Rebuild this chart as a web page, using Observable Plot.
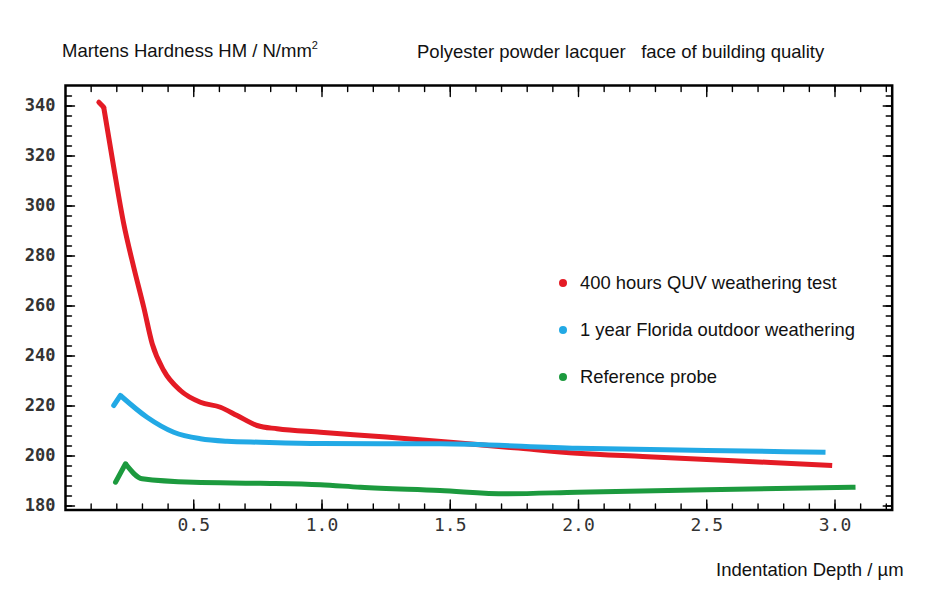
<!DOCTYPE html>
<html><head><meta charset="utf-8">
<script src="https://cdn.jsdelivr.net/npm/d3@7"></script>
<script src="https://cdn.jsdelivr.net/npm/@observablehq/plot@0.6"></script>
<style>
html,body{margin:0;padding:0;background:#fff;}
#wrap{position:relative;width:936px;height:610px;overflow:hidden;font-family:"Liberation Sans",Arial,sans-serif;color:#111;}
#wrap svg{position:absolute;left:0;top:0;}
.lbl{position:absolute;font-size:18.5px;line-height:18px;white-space:nowrap;}
.lbl sup{font-size:11px;line-height:0;vertical-align:0;position:relative;top:-8px;}
.leg{position:absolute;left:559px;font-size:18.4px;line-height:18px;white-space:nowrap;}
.leg .dot{display:inline-block;width:8px;height:8px;border-radius:50%;margin-right:13px;vertical-align:2px;}
</style>
</head><body>
<div id="wrap"></div>
<script>
// ---- data ----
const depthQUV = [0.130,0.149,0.188,0.227,0.266,0.305,0.338,0.383,0.448,0.526,0.604,0.669,0.747,0.825,0.994,1.25,1.5,1.75,1.995,2.25,2.5,2.75,2.989];
const hmQUV    = [341.5,339.5,315.5,292.9,275.5,259.5,244.9,234.2,226.2,221.5,219.5,216.2,212.2,210.9,209.5,207.6,205.5,203.3,201.1,199.8,198.6,197.4,196.2];

const depthFlorida = [0.188,0.214,0.318,0.422,0.526,0.630,0.760,0.994,1.46,1.995,2.5,2.963];
const hmFlorida    = [220.2,224.2,215.5,209.5,206.9,205.9,205.5,205.0,204.9,203.1,202.2,201.5];

const depthRef = [0.195,0.234,0.299,0.500,0.760,0.994,1.15,1.46,1.72,1.995,2.5,3.08];
const hmRef    = [189.5,196.9,190.9,189.5,189.1,188.5,187.5,186.2,184.9,185.5,186.5,187.5];

const seriesNames  = ["400 hours QUV weathering test","1 year Florida outdoor weathering","Reference probe"];
const seriesColors = ["#e41b25","#22a9e5","#1c9a3e"];

const xTickLabels = [0.5,1.0,1.5,2.0,2.5,3.0];
const yTickLabels = [180,200,220,240,260,280,300,320,340];
const xMinorTicks = d3.range(1,33).map(i => i/10);
const yMinorTicks = d3.range(180,348,4);

const titleLeft  = "Martens Hardness HM / N/mm";
const titleRight = "Polyester powder lacquer \u00a0 face of building quality";
const xLabel = "Indentation Depth / \u00b5m";

// ---- build ----
const toRows = (xs, ys) => xs.map((x,i) => ({x, y: ys[i]}));
const series = [toRows(depthQUV,hmQUV), toRows(depthFlorida,hmFlorida), toRows(depthRef,hmRef)];

const tickShape = {draw(ctx, l){ ctx.moveTo(0,0); ctx.lineTo(0,-l); }};
const tickMarks = (vals, anchor, rotate, len) =>
  anchor === "bottom" || anchor === "top"
    ? Plot.vector(vals, {x: d=>d, frameAnchor: anchor, rotate, length: len, anchor:"start", shape: tickShape, stroke:"#000", strokeWidth:1.4})
    : Plot.vector(vals, {y: d=>d, frameAnchor: anchor, rotate, length: len, anchor:"start", shape: tickShape, stroke:"#000", strokeWidth:1.4});

// each curve: sharp first segment (start kink/peak), smooth remainder
const curveMarks = series.flatMap((s,i) => [
  Plot.line(s.slice(0,2), {x:"x", y:"y", stroke: seriesColors[i], strokeWidth: 5, strokeLinejoin:"round", strokeLinecap:"round"}),
  Plot.line(s.slice(1), {x:"x", y:"y", stroke: seriesColors[i], strokeWidth: 5, curve:"monotone-x", strokeLinejoin:"round", strokeLinecap:"butt"})
]);

const plot = Plot.plot({
  width: 936, height: 610,
  marginLeft: 65, marginRight: 44.3, marginTop: 85, marginBottom: 100.5,
  x: {domain: [0, 3.223]},
  y: {domain: [178.4, 348.2]},
  style: {background: "transparent", overflow: "visible"},
  marks: [
    ...curveMarks,
    tickMarks(xMinorTicks, "bottom", 0, 6),
    tickMarks(xTickLabels, "bottom", 0, 10),
    tickMarks(xMinorTicks, "top", 180, 6),
    tickMarks(xTickLabels, "top", 180, 11),
    tickMarks(yMinorTicks, "left", 90, 6),
    tickMarks(yTickLabels, "left", 90, 9),
    tickMarks(yMinorTicks, "right", -90, 6),
    tickMarks(yTickLabels, "right", -90, 9),
    Plot.frame({stroke:"#000", strokeWidth: 2.5}),
    Plot.axisX(xTickLabels, {anchor:"bottom", tickSize:0, tickPadding:8, tickFormat: d => d.toFixed(1), label:null,
      fontFamily:"DejaVu Sans Mono", fontSize:18, fill:"#333", letterSpacing: 2}),
    Plot.axisY(yTickLabels, {anchor:"left", tickSize:0, tickPadding:10, label:null,
      fontFamily:"DejaVu Sans Mono", fontSize:17, fontWeight:"bold", fill:"#333", letterSpacing: 0.8})
  ]
});
const wrap = document.getElementById("wrap");
wrap.appendChild(plot);

function addLabel(html, left, top){
  const d = document.createElement("div");
  d.className = "lbl"; d.innerHTML = html;
  d.style.left = left+"px"; d.style.top = top+"px";
  wrap.appendChild(d);
  return d;
}
addLabel(titleLeft + "<sup>2</sup>", 62, 42);
addLabel(titleRight, 417, 43);
addLabel(xLabel, 716, 561);

const legTops = [274, 321, 368];
seriesNames.forEach((n,i) => {
  const d = document.createElement("div");
  d.className = "leg"; d.style.top = legTops[i]+"px";
  const dot = document.createElement("span"); dot.className="dot"; dot.style.background = seriesColors[i];
  d.appendChild(dot); d.appendChild(document.createTextNode(n));
  wrap.appendChild(d);
});
</script>
</body></html>
